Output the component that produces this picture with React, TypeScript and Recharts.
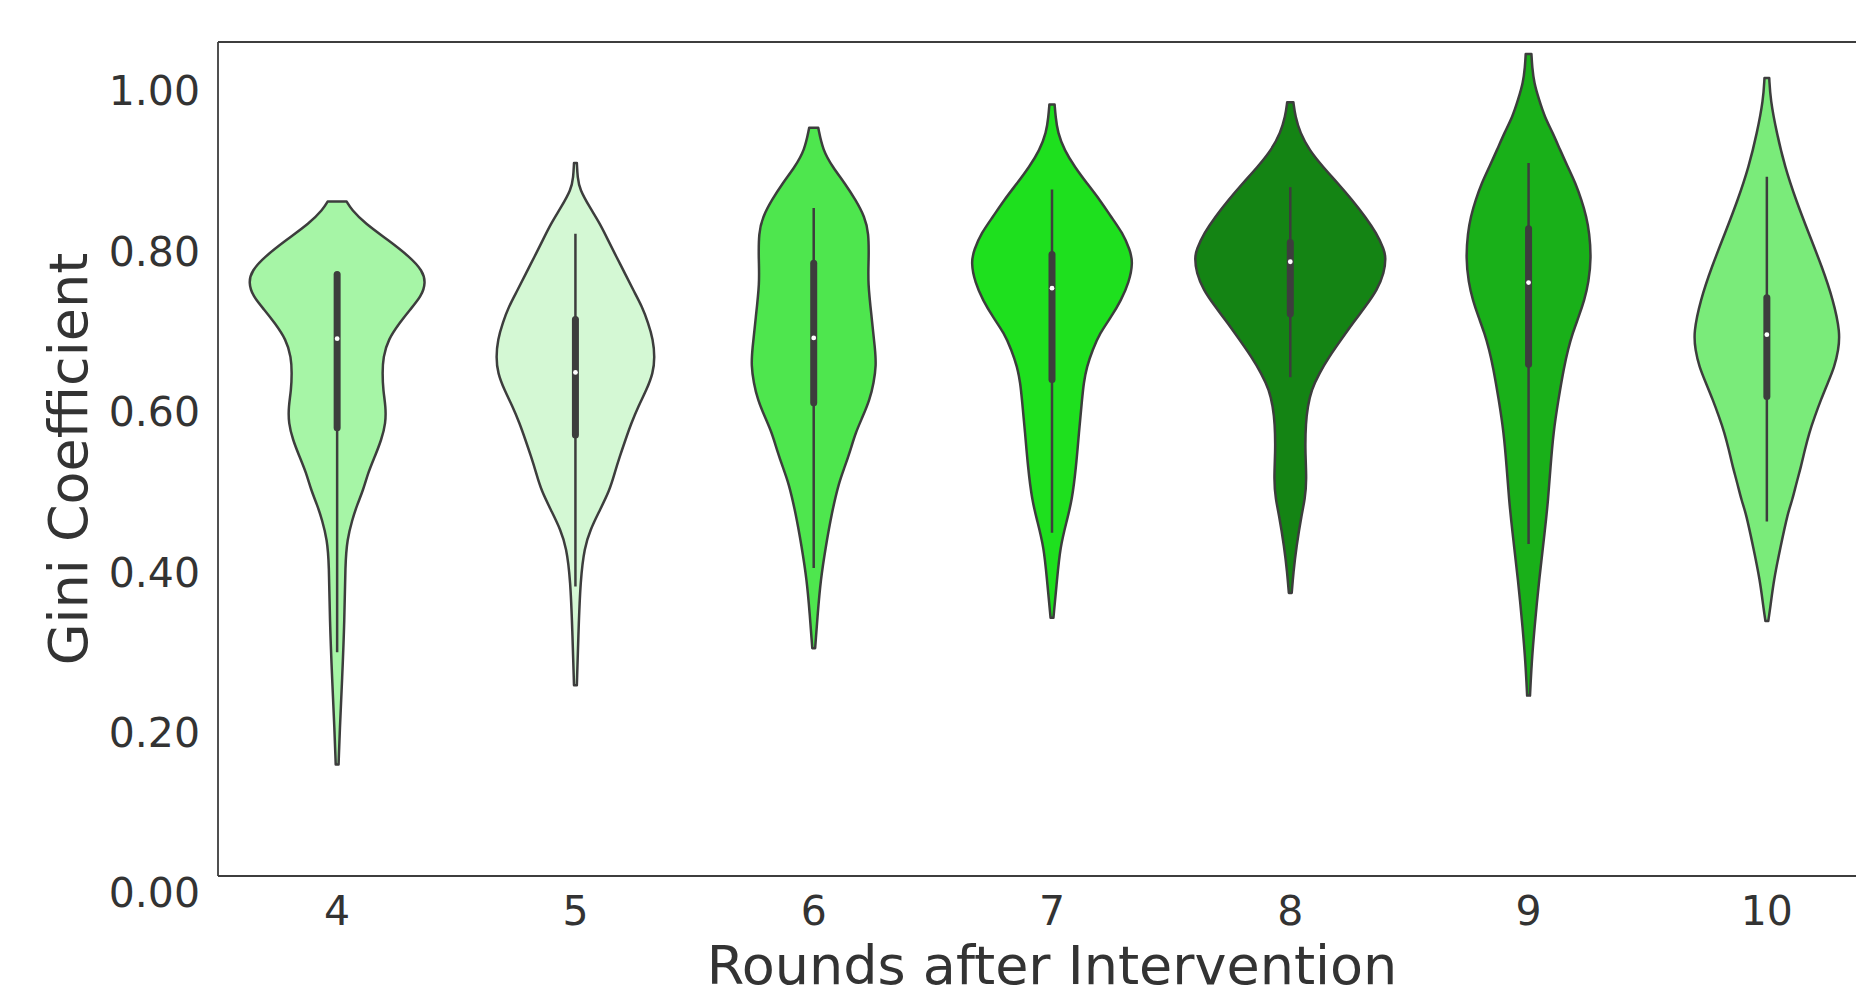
import {
  ComposedChart,
  Scatter,
  XAxis,
  YAxis,
  ReferenceLine,
} from 'recharts';

// rounds after the intervention (x categories)
const rounds = [4, 5, 6, 7, 8, 9, 10];

const COLORS = [
  '#a6f5a6', // 4
  '#d4f8d4', // 5
  '#4ee64e', // 6
  '#1ee01e', // 7
  '#148414', // 8
  '#19b019', // 9
  '#7aeb7a', // 10
];

// violin profiles: [gini value, half width as a fraction of one category step]
const violin4: [number, number][] = [
  [0.862, 0.04], [0.852, 0.06], [0.835, 0.116], [0.814, 0.214], [0.793, 0.305],
  [0.776, 0.358], [0.761, 0.372], [0.744, 0.354], [0.727, 0.305], [0.711, 0.263],
  [0.69, 0.214], [0.668, 0.193], [0.648, 0.19], [0.627, 0.193], [0.606, 0.204],
  [0.586, 0.204], [0.565, 0.186], [0.544, 0.158], [0.524, 0.13], [0.502, 0.109],
  [0.484, 0.084], [0.465, 0.063], [0.44, 0.042], [0.411, 0.034], [0.34, 0.031],
  [0.266, 0.021], [0.203, 0.011], [0.16, 0.006],
];
const violin5: [number, number][] = [
  [0.91, 0.006], [0.892, 0.009], [0.877, 0.018], [0.855, 0.06], [0.835, 0.102],
  [0.814, 0.137], [0.793, 0.172], [0.773, 0.207], [0.752, 0.242], [0.731, 0.28],
  [0.711, 0.305], [0.69, 0.326], [0.668, 0.333], [0.648, 0.326], [0.627, 0.298],
  [0.606, 0.263], [0.586, 0.235], [0.565, 0.21], [0.544, 0.186], [0.524, 0.165],
  [0.502, 0.144], [0.474, 0.097], [0.453, 0.063], [0.431, 0.038], [0.39, 0.021],
  [0.328, 0.013], [0.259, 0.006],
];
const violin6: [number, number][] = [
  [0.954, 0.019], [0.926, 0.038], [0.905, 0.08], [0.885, 0.13], [0.864, 0.176],
  [0.843, 0.214], [0.823, 0.231], [0.789, 0.231], [0.761, 0.227], [0.718, 0.243],
  [0.677, 0.258], [0.658, 0.262], [0.636, 0.252], [0.615, 0.235], [0.594, 0.206],
  [0.574, 0.176], [0.552, 0.154], [0.531, 0.13], [0.511, 0.105], [0.474, 0.076],
  [0.431, 0.05], [0.39, 0.029], [0.349, 0.017], [0.305, 0.006],
];
const violin7: [number, number][] = [
  [0.983, 0.011], [0.968, 0.015], [0.948, 0.024], [0.926, 0.052], [0.905, 0.096],
  [0.885, 0.146], [0.864, 0.201], [0.843, 0.248], [0.823, 0.296], [0.802, 0.327],
  [0.786, 0.34], [0.761, 0.323], [0.739, 0.29], [0.718, 0.248], [0.698, 0.201],
  [0.677, 0.17], [0.656, 0.146], [0.636, 0.133], [0.615, 0.126], [0.574, 0.113],
  [0.531, 0.101], [0.49, 0.084], [0.465, 0.063], [0.431, 0.034], [0.39, 0.021],
  [0.343, 0.006],
];
const violin8: [number, number][] = [
  [0.986, 0.013], [0.968, 0.021], [0.948, 0.041], [0.926, 0.08], [0.905, 0.138],
  [0.885, 0.199], [0.864, 0.26], [0.843, 0.315], [0.823, 0.361], [0.802, 0.394],
  [0.792, 0.401], [0.773, 0.394], [0.752, 0.365], [0.731, 0.315], [0.711, 0.264],
  [0.69, 0.214], [0.668, 0.162], [0.648, 0.122], [0.627, 0.088], [0.606, 0.073],
  [0.586, 0.065], [0.552, 0.062], [0.515, 0.069], [0.49, 0.061], [0.474, 0.049],
  [0.431, 0.025], [0.399, 0.013], [0.374, 0.006],
];
const violin9: [number, number][] = [
  [1.046, 0.012], [1.03, 0.015], [1.01, 0.023], [0.989, 0.044], [0.968, 0.067],
  [0.948, 0.101], [0.926, 0.133], [0.905, 0.165], [0.885, 0.197], [0.864, 0.222],
  [0.843, 0.243], [0.823, 0.255], [0.792, 0.263], [0.761, 0.252], [0.739, 0.234],
  [0.718, 0.21], [0.698, 0.185], [0.677, 0.165], [0.656, 0.149], [0.615, 0.125],
  [0.574, 0.104], [0.531, 0.092], [0.49, 0.082], [0.453, 0.069], [0.39, 0.044],
  [0.328, 0.024], [0.287, 0.013], [0.246, 0.006],
];
const violin10: [number, number][] = [
  [1.016, 0.01], [0.989, 0.015], [0.948, 0.041], [0.905, 0.076], [0.864, 0.122],
  [0.823, 0.175], [0.781, 0.231], [0.739, 0.279], [0.698, 0.308], [0.677, 0.3],
  [0.656, 0.284], [0.636, 0.256], [0.615, 0.227], [0.594, 0.201], [0.574, 0.178],
  [0.552, 0.159], [0.531, 0.143], [0.511, 0.124], [0.49, 0.107], [0.474, 0.088],
  [0.431, 0.057], [0.39, 0.029], [0.357, 0.015], [0.339, 0.006],
];

const profiles = [violin4, violin5, violin6, violin7, violin8, violin9, violin10];

// inner box stats
const medians = [0.691, 0.649, 0.692, 0.754, 0.787, 0.761, 0.696];
const q1s = [0.58, 0.571, 0.611, 0.64, 0.722, 0.659, 0.619];
const q3s = [0.771, 0.715, 0.785, 0.796, 0.811, 0.828, 0.742];
const whiskerLows = [0.3, 0.382, 0.405, 0.449, 0.643, 0.435, 0.463];
const whiskerHighs = [0.771, 0.822, 0.854, 0.877, 0.88, 0.91, 0.893];

const yDomain = [0.021, 1.061];
const yTicks = [0, 0.2, 0.4, 0.6, 0.8, 1.0];

const INK = '#3d3d3d';
const TEXT = '#333333';
const FONT = 'DejaVu Sans, sans-serif';

type Pt = { x: number; y: number };

// smooth curve through the profile (cubic b-spline, ends pinned)
const splineThrough = (pts: Pt[]) => {
  const n = pts.length;
  const q = [pts[0], pts[0], ...pts, pts[n - 1], pts[n - 1]];
  let d = '';
  for (let i = 0; i < q.length - 3; i++) {
    const b = q[i + 1];
    const c = q[i + 2];
    const e = q[i + 3];
    const c1x = (2 * b.x + c.x) / 3;
    const c1y = (2 * b.y + c.y) / 3;
    const c2x = (b.x + 2 * c.x) / 3;
    const c2y = (b.y + 2 * c.y) / 3;
    const ex = (b.x + 4 * c.x + e.x) / 6;
    const ey = (b.y + 4 * c.y + e.y) / 6;
    d += ` C${c1x},${c1y} ${c2x},${c2y} ${ex},${ey}`;
  }
  return d;
};

const makeOutline = (fill: string) => (props: any) => {
  const pts: Pt[] = props.points || [];
  if (pts.length < 4) return null;
  const half = pts.length / 2;
  const left = pts.slice(0, half);
  const right = pts.slice(half);
  const d =
    `M${left[0].x},${left[0].y}` +
    splineThrough(left) +
    ` L${right[0].x},${right[0].y}` +
    splineThrough(right) +
    ' Z';
  return <path d={d} fill={fill} stroke={INK} strokeWidth={2.5} strokeLinejoin="round" />;
};

// whisker (thin) and box (thick) from the four points wl, q1, q3, wh
const boxLine = (props: any) => {
  const pts: Pt[] = props.points || [];
  if (pts.length < 4) return null;
  const [wl, q1, q3, wh] = pts;
  return (
    <g>
      <line x1={wl.x} y1={wl.y} x2={wh.x} y2={wh.y} stroke={INK} strokeWidth={2.5} />
      <line
        x1={q1.x}
        y1={q1.y}
        x2={q3.x}
        y2={q3.y}
        stroke={INK}
        strokeWidth={7}
        strokeLinecap="round"
      />
    </g>
  );
};

const violinData = profiles.map((profile, i) => {
  const cat = rounds[i];
  const left = profile.map(([v, w]) => ({ x: cat - w, y: v }));
  const right = [...profile].reverse().map(([v, w]) => ({ x: cat + w, y: v }));
  return [...left, ...right];
});

const boxData = rounds.map((cat, i) => [
  { x: cat, y: whiskerLows[i] },
  { x: cat, y: q1s[i] },
  { x: cat, y: q3s[i] },
  { x: cat, y: whiskerHighs[i] },
]);

const medianData = rounds.map((cat, i) => ({ x: cat, y: medians[i] }));

const MedianDot = (props: any) => (
  <circle cx={props.cx} cy={props.cy} r={2.4} fill="#ffffff" />
);

const NoShape = () => <g />;

const App = () => {
  return (
    <div
      style={{
        position: 'absolute',
        left: 0,
        top: 0,
        width: 1856,
        height: 988,
        overflow: 'hidden',
        background: '#ffffff',
      }}
    >
      <ComposedChart
        width={1900}
        height={988}
        margin={{ top: 42, right: 14, bottom: 0, left: 0 }}
        style={{ fontFamily: FONT }}
      >
        <XAxis
          type="number"
          dataKey="x"
          domain={[3.5, 10.5]}
          ticks={rounds}
          interval={0}
          allowDataOverflow
          height={112}
          tickLine={false}
          tickSize={0}
          tickMargin={20}
          axisLine={{ stroke: INK, strokeWidth: 1.8 }}
          tick={{ fill: TEXT, fontSize: 41, fontFamily: FONT }}
          label={{
            value: 'Rounds after Intervention',
            position: 'insideBottom',
            offset: 4,
            fill: TEXT,
            fontSize: 54,
            fontFamily: FONT,
          }}
        />
        <YAxis
          type="number"
          dataKey="y"
          domain={yDomain}
          ticks={yTicks}
          interval={0}
          allowDataOverflow
          width={218}
          tickLine={false}
          tickSize={0}
          tickMargin={18}
          tickFormatter={(v: number) => v.toFixed(2)}
          axisLine={{ stroke: INK, strokeWidth: 1.8 }}
          tick={{ fill: TEXT, fontSize: 41, fontFamily: FONT }}
          label={{
            value: 'Gini Coefficient',
            angle: -90,
            position: 'insideLeft',
            offset: 68,
            fill: TEXT,
            fontSize: 54,
            fontFamily: FONT,
            style: { textAnchor: 'middle' },
          }}
        />
        <ReferenceLine y={yDomain[1]} stroke={INK} strokeWidth={1.8} />
        {violinData.map((points, i) => (
          <Scatter
            key={`violin-${rounds[i]}`}
            data={points}
            dataKey="y"
            line={makeOutline(COLORS[i])}
            lineType="joint"
            shape={NoShape}
            legendType="none"
            isAnimationActive={false}
          />
        ))}
        {boxData.map((points, i) => (
          <Scatter
            key={`box-${rounds[i]}`}
            data={points}
            dataKey="y"
            line={boxLine}
            lineType="joint"
            shape={NoShape}
            legendType="none"
            isAnimationActive={false}
          />
        ))}
        <Scatter
          data={medianData}
          dataKey="y"
          shape={MedianDot}
          legendType="none"
          isAnimationActive={false}
        />
      </ComposedChart>
    </div>
  );
};

export default App;
